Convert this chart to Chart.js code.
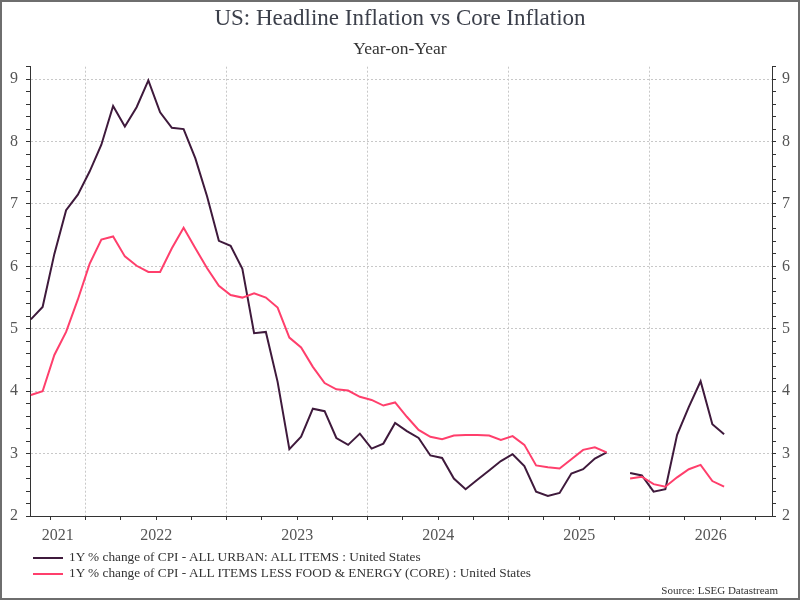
<!DOCTYPE html>
<html>
<head>
<meta charset="utf-8">
<title>US: Headline Inflation vs Core Inflation</title>
<script src="https://cdn.jsdelivr.net/npm/chart.js@4.4.1/dist/chart.umd.min.js"></script>
<style>
  html, body { margin: 0; padding: 0; background: #fff; }
  #wrap { position: relative; width: 800px; height: 600px; font-family: 'Liberation Serif', 'Times New Roman', serif; }
  #frame { position: absolute; left: 0; top: 0; right: 0; bottom: 0; border: 2px solid #6e6e6e; pointer-events: none; }
  #legend { position: absolute; left: 33px; top: 549px; font-size: 13.3px; color: #333; }
  .item { height: 16px; line-height: 16px; white-space: nowrap; }
  .swatch { display: inline-block; width: 30px; height: 2px; vertical-align: middle; margin-right: 6px; }
  #source { position: absolute; right: 22px; top: 584px; font-size: 11px; color: #333; }
</style>
</head>
<body>
<div id="wrap">
  <canvas id="inflationChart" width="800" height="600"></canvas>
  <div id="legend"></div>
  <div id="source">Source: LSEG Datastream</div>
  <div id="frame"></div>
</div>
<script>
// Monthly observations, Aug 2021 - Jul 2026 (Oct 2025 not published)
const months = [
    '2021-08', '2021-09', '2021-10', '2021-11', '2021-12',
    '2022-01', '2022-02', '2022-03', '2022-04', '2022-05', '2022-06',
    '2022-07', '2022-08', '2022-09', '2022-10', '2022-11', '2022-12',
    '2023-01', '2023-02', '2023-03', '2023-04', '2023-05', '2023-06',
    '2023-07', '2023-08', '2023-09', '2023-10', '2023-11', '2023-12',
    '2024-01', '2024-02', '2024-03', '2024-04', '2024-05', '2024-06',
    '2024-07', '2024-08', '2024-09', '2024-10', '2024-11', '2024-12',
    '2025-01', '2025-02', '2025-03', '2025-04', '2025-05', '2025-06',
    '2025-07', '2025-08', '2025-09', '2025-10', '2025-11', '2025-12',
    '2026-01', '2026-02', '2026-03', '2026-04', '2026-05', '2026-06',
    '2026-07'
];

const headline = [
    5.15, 5.35, 6.2, 6.9, 7.15,
    7.52, 7.95, 8.57, 8.24, 8.55, 8.98,
    8.47, 8.22, 8.2, 7.73, 7.12, 6.41,
    6.33, 5.96, 4.93, 4.95, 4.15, 3.07,
    3.27, 3.72, 3.68, 3.25, 3.14, 3.32,
    3.08, 3.16, 3.49, 3.36, 3.25, 2.97,
    2.93, 2.6, 2.43, 2.58, 2.73, 2.88,
    2.99, 2.8, 2.39, 2.32, 2.37, 2.68,
    2.75, 2.92, 3.02, null, 2.69, 2.65,
    2.39, 2.43, 3.3, 3.75, 4.16, 3.47,
    3.31
];

const core = [
    3.94, 4.0, 4.58, 4.95, 5.47,
    6.04, 6.43, 6.48, 6.16, 6.01, 5.91,
    5.91, 6.29, 6.62, 6.29, 5.97, 5.69,
    5.54, 5.5, 5.57, 5.5, 5.34, 4.86,
    4.7, 4.39, 4.13, 4.03, 4.01, 3.91,
    3.86, 3.77, 3.82, 3.59, 3.38, 3.27,
    3.23, 3.29, 3.3, 3.3, 3.29, 3.22,
    3.28, 3.14, 2.81, 2.78, 2.76, 2.91,
    3.06, 3.1, 3.02, null, 2.6, 2.63,
    2.51, 2.47, 2.62, 2.75, 2.82, 2.56,
    2.47
];

const seriesNames = [
    '1Y % change of CPI - ALL URBAN: ALL ITEMS : United States',
    '1Y % change of CPI - ALL ITEMS LESS FOOD & ENERGY (CORE) : United States'
];
const seriesColors = ['#3f1a3c', '#ff3f6c'];

const yearLabels = ['2021', '2022', '2023', '2024', '2025', '2026'];
const firstYear = 2021;
const obsDay = 11; // observations are dated around the 11th of each month

// month number counted from Jan 2021, plus the day fraction
function monthPos(m) {
    const [y, mo] = m.split('-').map(Number);
    return (y - firstYear) * 12 + (mo - 1) + (obsDay - 1) / 30;
}

function toPoints(values) {
    return months.map((m, i) => ({ x: monthPos(m), y: values[i] }));
}

function isWhole(v) {
    return Math.abs(v - Math.round(v)) < 1e-6;
}

const serif = "'Liberation Serif', 'Times New Roman', serif";
const gridColor = '#c8c8c8';
const axisColor = '#333';
const labelColor = '#555';
const tickFont = { family: serif, size: 16 };

// html legend (two rows, left aligned)
const legendEl = document.getElementById('legend');
seriesNames.forEach((name, i) => {
    const row = document.createElement('div');
    row.className = 'item';
    const sw = document.createElement('span');
    sw.className = 'swatch';
    sw.style.background = seriesColors[i];
    row.appendChild(sw);
    row.appendChild(document.createTextNode(name));
    legendEl.appendChild(row);
});

const yAxisBase = {
    min: 2,
    max: 9.2,
    ticks: {
        stepSize: 0.2,
        autoSkip: false,
        font: tickFont,
        color: labelColor,
        callback: v => isWhole(v) ? Math.round(v) : ''
    },
    border: { color: axisColor, width: 1, dash: [2, 2] },
};

new Chart(document.getElementById('inflationChart').getContext('2d'), {
    type: 'line',
    data: {
        datasets: [
            {
                label: seriesNames[0],
                data: toPoints(headline),
                borderColor: seriesColors[0],
                borderWidth: 2,
                pointRadius: 0,
                spanGaps: false,
                order: 2
            },
            {
                label: seriesNames[1],
                data: toPoints(core),
                borderColor: seriesColors[1],
                borderWidth: 2,
                pointRadius: 0,
                spanGaps: false,
                order: 1
            }
        ]
    },
    options: {
        responsive: false,
        animation: false,
        events: [],
        layout: { padding: 0 },
        scales: {
            x: {
                type: 'linear',
                bounds: 'data',
                min: 7.26,
                max: 70.41,
                afterBuildTicks: axis => {
                    const ticks = [];
                    // quarterly tick marks
                    for (let v = Math.ceil(axis.min / 3) * 3; v <= axis.max; v += 3) {
                        ticks.push({ value: v });
                    }
                    // year label in the middle of the visible part of each year
                    yearLabels.forEach((yr, i) => {
                        const a = Math.max(axis.min, i * 12);
                        const b = Math.min(axis.max, i * 12 + 12);
                        const mid = (a + b) / 2;
                        const t = ticks.find(t => Math.abs(t.value - mid) < 1e-6);
                        if (t) {
                            t.year = yr;
                        } else {
                            ticks.push({ value: mid, year: yr, labelOnly: true });
                        }
                    });
                    ticks.sort((p, q) => p.value - q.value);
                    axis.ticks = ticks;
                },
                afterFit: axis => { axis.height = 84; },
                ticks: {
                    autoSkip: false,
                    maxRotation: 0,
                    padding: 6,
                    font: tickFont,
                    color: labelColor,
                    callback: (value, index, ticks) => ticks[index].year || ''
                },
                grid: {
                    color: ctx => (ctx.tick && isWhole(ctx.tick.value) && Math.round(ctx.tick.value) % 12 === 0) ? gridColor : 'rgba(0,0,0,0)',
                    tickColor: ctx => (ctx.tick && !ctx.tick.labelOnly) ? axisColor : 'rgba(0,0,0,0)',
                    tickLength: 4,
                    tickBorderDash: [],
                    lineWidth: 1
                },
                border: { color: axisColor, width: 1, dash: [2, 2] }
            },
            y: Object.assign({}, yAxisBase, {
                position: 'left',
                afterFit: axis => { axis.width = 30; },
                ticks: Object.assign({}, yAxisBase.ticks, { padding: 8 }),
                grid: {
                    color: ctx => (ctx.tick && isWhole(ctx.tick.value)) ? gridColor : 'rgba(0,0,0,0)',
                    tickColor: axisColor,
                    tickLength: 4,
                    tickBorderDash: []
                }
            }),
            y2: Object.assign({}, yAxisBase, {
                position: 'right',
                afterFit: axis => { axis.width = 28; },
                ticks: Object.assign({}, yAxisBase.ticks, { padding: 6 }),
                grid: {
                    drawOnChartArea: false,
                    tickColor: axisColor,
                    tickLength: 4,
                    tickBorderDash: []
                }
            })
        },
        plugins: {
            legend: { display: false },
            tooltip: { enabled: false },
            title: {
                display: true,
                text: 'US: Headline Inflation vs Core Inflation',
                color: '#3b3f4a',
                font: { family: serif, size: 23, weight: 'normal' },
                padding: { top: 5.5, bottom: 2 }
            },
            subtitle: {
                display: true,
                text: 'Year-on-Year',
                color: '#333',
                font: { family: serif, size: 17.5, weight: 'normal' },
                padding: { top: 3.8, bottom: 6.8 }
            }
        }
    }
});
</script>
</body>
</html>
